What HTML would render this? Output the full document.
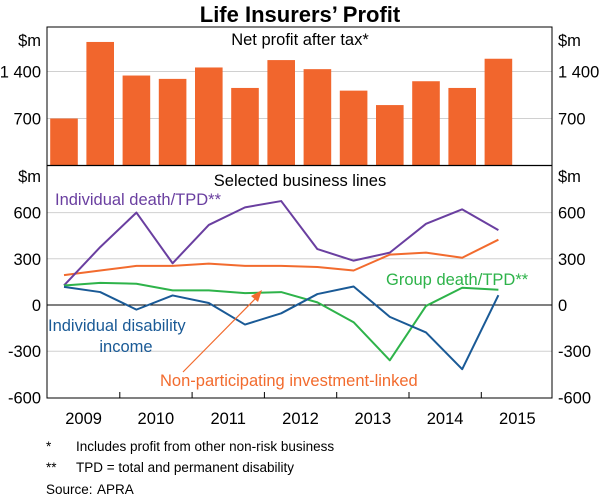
<!DOCTYPE html>
<html><head><meta charset="utf-8"><style>
body{margin:0;background:#fff;}
svg{display:block;font-family:"Liberation Sans",Arial,sans-serif;}
</style></head><body>
<svg id="c" width="600" height="499" viewBox="0 0 600 499"></svg>
<script>
const categories=['2009H1','2009H2','2010H1','2010H2','2011H1','2011H2','2012H1','2012H2','2013H1','2013H2','2014H1','2014H2','2015H1'];
const netProfit=[700,1840,1340,1290,1460,1155,1570,1435,1115,900,1255,1155,1590];
const indivDeath=[127,376,600,271,520,634,675,363,288,340,527,621,486];
const nonPart=[194,224,254,254,269,254,254,247,224,327,340,307,424];
const groupDeath=[127,144,138,95,95,77,84,17,-112,-359,-6,112,99];
const indivDisab=[118,84,-30,62,13,-127,-54,71,120,-77,-178,-417,64];
const topTicks=[700,1400];
const botTicks=[600,300,0,-300,-600];
const years=['2009','2010','2011','2012','2013','2014','2015'];

const L=47,R=552;
const xPt=i=>64+i*36.2;
const yTop=v=>165.5-v*47/700;
const yBot=v=>305-v*46.2/300;
const svg=document.getElementById('c');
const NS='http://www.w3.org/2000/svg';
function mk(tag,attrs,parent){const e=document.createElementNS(NS,tag);for(const k in attrs)e.setAttribute(k,attrs[k]);(parent||svg).appendChild(e);return e;}
function txt(s,x,y,attrs){const e=mk('text',Object.assign({x:x,y:y,'font-size':16.5,fill:'#000'},attrs||{}));e.textContent=s;return e;}

let t=txt("Life Insurers’ Profit",300,22,{'text-anchor':'middle','font-size':22,'font-weight':'bold'});


topTicks.forEach(v=>{const g=mk('line',{x1:L,x2:R,y1:yTop(v),y2:yTop(v),stroke:'#d0d0d0','stroke-width':1});

[[L-6,'end'],[R+6,'start']].forEach(([x,a])=>{const l=txt(v===1400?'1 400':String(v),x,yTop(v)+6,{'text-anchor':a});
});});
botTicks.forEach(v=>{if(v!==0&&v!==-600){const g=mk('line',{x1:L,x2:R,y1:yBot(v),y2:yBot(v),stroke:'#d0d0d0','stroke-width':1});
}
[[L-6,'end'],[R+6,'start']].forEach(([x,a])=>{const l=txt(String(v),x,yBot(v)+6,{'text-anchor':a});
});});

[[L-6,'end',46],[R+6,'start',46],[L-6,'end',182],[R+6,'start',182]].forEach(([x,a,y])=>{const u=txt('$m',x,y,{'text-anchor':a});
});

netProfit.forEach((v,i)=>{const b=mk('rect',{x:xPt(i)-13.8,y:yTop(v),width:27.6,height:yTop(0)-yTop(v),fill:'#f1662d'});
});

t=txt('Net profit after tax*',300,45,{'text-anchor':'middle'});
t=txt('Selected business lines',300,186,{'text-anchor':'middle'});

let z=mk('line',{x1:L,x2:R,y1:yBot(0),y2:yBot(0),stroke:'#000','stroke-width':1});


function series(arr,color,name){const p=mk('polyline',{points:arr.map((v,i)=>xPt(i)+','+yBot(v)).join(' '),fill:'none',stroke:color,'stroke-width':2,'stroke-linejoin':'round'});
}
series(nonPart,'#f26b2e','line-non-participating-investment-linked');
series(indivDeath,'#6a3fa0','line-individual-death-tpd');
series(groupDeath,'#2eb34a','line-group-death-tpd');
series(indivDisab,'#1a5a96','line-individual-disability-income');

let f=mk('rect',{x:L,y:27,width:R-L,height:371,fill:'none',stroke:'#000','stroke-width':1});

f=mk('line',{x1:L,x2:R,y1:165.5,y2:165.5,stroke:'#000','stroke-width':1.2});


for(let k=1;k<=6;k++){const x=47.5+k*72.3;const tk=mk('line',{x1:x,x2:x,y1:398,y2:392,stroke:'#000'});
}
years.forEach((y,k)=>{const l=txt(y,83.6+k*72.3,424,{'text-anchor':'middle'});
});

t=txt('Individual death/TPD**',55,205,{fill:'#6a3fa0'});
t=txt('Group death/TPD**',386,285,{fill:'#2eb34a'});
t=txt('Individual disability',48,331,{fill:'#1a5a96'});
t=txt('income',126,352,{fill:'#1a5a96','text-anchor':'middle'});
t=txt('Non-participating investment-linked',160,386,{fill:'#f26b2e'});

let a=mk('line',{x1:183,y1:372,x2:257,y2:297,stroke:'#f26b2e','stroke-width':1.2});

a=mk('polygon',{points:'262,290 251,296 258,302',fill:'#f26b2e'});


const fn=[['*','Includes profit from other non-risk business',451,76],['**','TPD = total and permanent disability',472,76],['Source:','APRA',494,97]];
fn.forEach(([m,s,y,x])=>{let a=txt(m,46,y,{'font-size':13.5});
let b=txt(s,x,y,{'font-size':13.5});});
</script>
</body></html>
